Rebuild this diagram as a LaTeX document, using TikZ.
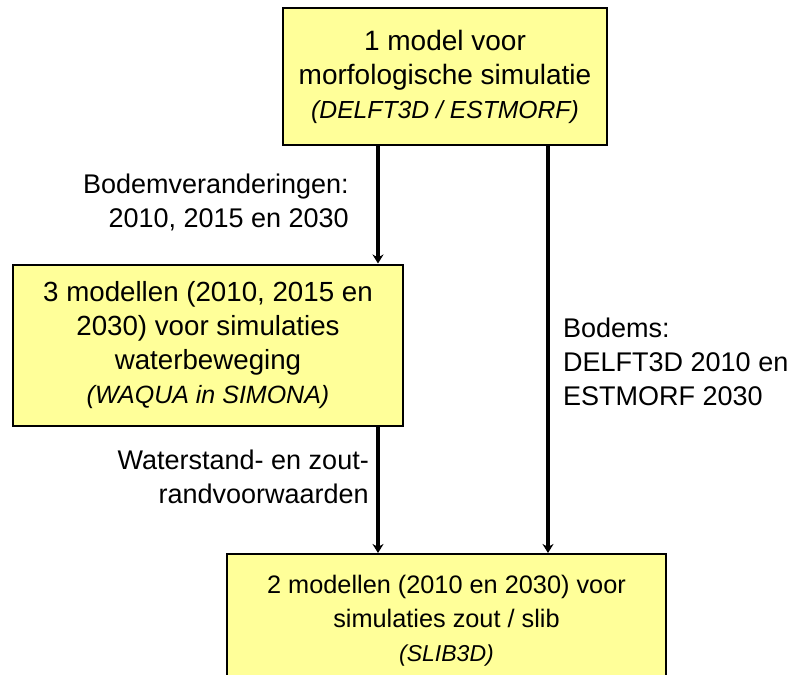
\documentclass[tikz,border=0pt]{standalone}
\usepackage{fontspec}
\setmainfont{Liberation Sans}
\usetikzlibrary{arrows.meta}

\definecolor{boxyellow}{RGB}{255,255,153}
\newcommand{\toolname}[2]{{\fontsize{#1}{34}\selectfont\itshape(#2)}}

\tikzset{
	modelbox/.style={draw=black, line width=2pt, fill=boxyellow, align=center,
		font=\fontsize{#1}{34}\selectfont, inner sep=0pt},
	flowlabel/.style={font=\fontsize{27}{34}\selectfont, inner sep=0pt},
	flow/.style={-{Stealth[length=9pt, width=11pt]}, line width=3.2pt},
}

\begin{document}
\begin{tikzpicture}[x=1pt, y=-1pt]
	\useasboundingbox (0,0) rectangle (793,675);

	% model boxes (y runs downwards)
	\node[modelbox=28, minimum width=324pt, minimum height=137pt] (morf) at (445,76.5)
		{1 model voor\\morfologische simulatie\\\toolname{24.7}{DELFT3D / ESTMORF}};
	\node[modelbox=27.7, minimum width=390pt, minimum height=161pt] (waqua) at (208,345)
		{3 modellen (2010, 2015 en\\2030) voor simulaties\\waterbeweging\\\toolname{25}{WAQUA in SIMONA}};
	\node[modelbox=25.3, minimum width=439pt, minimum height=134pt] (slib) at (446.5,621)
		{2 modellen (2010 en 2030) voor\\simulaties zout / slib\\\toolname{23}{SLIB3D}};

	% columns of the connectors
	\coordinate (colA) at (378,0);
	\coordinate (colB) at (548,0);

	\draw[flow] (morf.south -| colA) -- (waqua.north -| colA);
	\draw[flow] (waqua.south -| colA) -- (slib.north -| colA);
	\draw[flow] (morf.south -| colB) -- (slib.north -| colB);

	% connector labels
	\node[flowlabel, anchor=east, align=right] (bodemA) at (349,202)
		{Bodemveranderingen:\\2010, 2015 en 2030};
	\node[flowlabel, anchor=east, align=right] (randvw) at (369,477)
		{Waterstand- en zout-\\randvoorwaarden};
	\node[flowlabel, anchor=west, align=left] (bodemB) at (563,362)
		{Bodems:\\DELFT3D 2010 en\\ESTMORF 2030};
\end{tikzpicture}
\end{document}
